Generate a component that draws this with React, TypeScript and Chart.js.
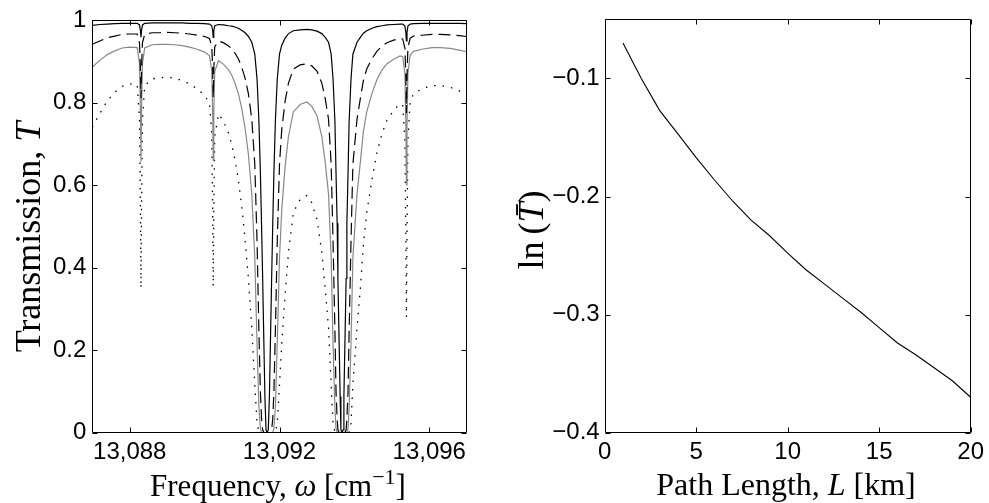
import React, { useEffect, useRef } from "react";
import { Chart, registerables } from "chart.js";

Chart.register(...registerables);

// ---------- Left panel: transmission spectra ----------
const freq = [
  13087.0, 13087.2, 13087.4, 13087.6, 13087.8, 13088.0, 13088.2, 13088.26, 13088.285, 13088.3,
  13088.315, 13088.34, 13088.4, 13088.6, 13088.8, 13089.0, 13089.2, 13089.4, 13089.6, 13089.8,
  13090.0, 13090.13, 13090.19, 13090.215, 13090.23, 13090.245, 13090.27, 13090.37, 13090.5, 13090.64,
  13090.73, 13090.81, 13090.9, 13090.99, 13091.08, 13091.17, 13091.26, 13091.34, 13091.4, 13091.45,
  13091.49, 13091.52, 13091.55, 13091.58, 13091.61, 13091.64, 13091.67, 13091.7, 13091.73, 13091.76,
  13091.79, 13091.82, 13091.85, 13091.89, 13091.94, 13092.0, 13092.06, 13092.15, 13092.24, 13092.37,
  13092.55, 13092.73, 13092.86, 13093.0, 13093.13, 13093.22, 13093.31, 13093.38, 13093.43, 13093.48,
  13093.51, 13093.54, 13093.56, 13093.59, 13093.62, 13093.64, 13093.67, 13093.7, 13093.72, 13093.75,
  13093.78, 13093.8, 13093.83, 13093.86, 13093.91, 13093.96, 13094.07, 13094.16, 13094.24, 13094.33,
  13094.47, 13094.6, 13094.74, 13094.87, 13095.05, 13095.22, 13095.29, 13095.35, 13095.375, 13095.39,
  13095.405, 13095.43, 13095.49, 13095.58, 13095.8, 13096.07, 13096.29, 13096.56, 13096.8, 13097.0,
];

const transSolid = [
  0.988, 0.99, 0.991, 0.992, 0.993, 0.993, 0.993, 0.989, 0.976, 0.959,
  0.976, 0.989, 0.993, 0.994, 0.994, 0.994, 0.994, 0.994, 0.993, 0.993,
  0.992, 0.991, 0.987, 0.975, 0.959, 0.975, 0.987, 0.99, 0.989, 0.987,
  0.986, 0.984, 0.981, 0.976, 0.97, 0.961, 0.947, 0.918, 0.858, 0.756,
  0.628, 0.508, 0.374, 0.23, 0.088, 0.007, 0.0, 0.007, 0.088, 0.23,
  0.374, 0.508, 0.628, 0.756, 0.858, 0.918, 0.94, 0.957, 0.968, 0.975,
  0.977, 0.978, 0.977, 0.974, 0.968, 0.959, 0.947, 0.918, 0.858, 0.756,
  0.628, 0.508, 0.374, 0.23, 0.088, 0.007, 0.0, 0.007, 0.088, 0.23,
  0.374, 0.508, 0.628, 0.756, 0.858, 0.918, 0.947, 0.959, 0.969, 0.975,
  0.981, 0.985, 0.987, 0.989, 0.99, 0.991, 0.991, 0.986, 0.971, 0.95,
  0.971, 0.986, 0.991, 0.992, 0.993, 0.993, 0.993, 0.993, 0.993, 0.992,
];

const transDashed = [
  0.942, 0.95, 0.958, 0.962, 0.966, 0.967, 0.967, 0.946, 0.886, 0.811,
  0.886, 0.946, 0.966, 0.97, 0.97, 0.971, 0.97, 0.969, 0.967, 0.964,
  0.961, 0.956, 0.938, 0.882, 0.813, 0.882, 0.936, 0.95, 0.946, 0.938,
  0.931, 0.921, 0.907, 0.887, 0.86, 0.822, 0.76, 0.651, 0.465, 0.247,
  0.098, 0.034, 0.007, 0.001, 0, 0, 0, 0, 0, 0.001,
  0.007, 0.034, 0.098, 0.247, 0.465, 0.651, 0.735, 0.804, 0.848, 0.882,
  0.892, 0.895, 0.89, 0.877, 0.848, 0.811, 0.76, 0.651, 0.465, 0.247,
  0.098, 0.034, 0.007, 0.001, 0, 0, 0, 0, 0, 0.001,
  0.007, 0.034, 0.098, 0.247, 0.465, 0.651, 0.76, 0.811, 0.854, 0.882,
  0.907, 0.925, 0.938, 0.946, 0.952, 0.956, 0.955, 0.933, 0.862, 0.775,
  0.862, 0.934, 0.957, 0.962, 0.964, 0.966, 0.966, 0.965, 0.963, 0.961,
];

const transGray = [
  0.887, 0.903, 0.917, 0.926, 0.933, 0.935, 0.934, 0.896, 0.784, 0.657,
  0.784, 0.896, 0.933, 0.941, 0.942, 0.942, 0.941, 0.939, 0.935, 0.93,
  0.923, 0.914, 0.879, 0.778, 0.661, 0.777, 0.876, 0.902, 0.894, 0.88,
  0.866, 0.848, 0.823, 0.787, 0.739, 0.675, 0.578, 0.424, 0.217, 0.061,
  0.01, 0.001, 0, 0, 0, 0, 0, 0, 0, 0,
  0, 0.001, 0.01, 0.061, 0.217, 0.424, 0.541, 0.646, 0.719, 0.778,
  0.796, 0.802, 0.792, 0.769, 0.719, 0.657, 0.578, 0.424, 0.217, 0.061,
  0.01, 0.001, 0, 0, 0, 0, 0, 0, 0, 0,
  0, 0.001, 0.01, 0.061, 0.217, 0.424, 0.578, 0.657, 0.73, 0.778,
  0.823, 0.856, 0.88, 0.895, 0.906, 0.914, 0.912, 0.871, 0.742, 0.601,
  0.742, 0.872, 0.916, 0.925, 0.93, 0.934, 0.934, 0.932, 0.928, 0.924,
];

const transDotted = [
  0.741, 0.774, 0.805, 0.826, 0.84, 0.846, 0.844, 0.76, 0.545, 0.35,
  0.545, 0.76, 0.842, 0.858, 0.861, 0.862, 0.86, 0.854, 0.846, 0.834,
  0.818, 0.799, 0.724, 0.534, 0.355, 0.533, 0.719, 0.773, 0.756, 0.726,
  0.698, 0.662, 0.614, 0.55, 0.47, 0.374, 0.254, 0.117, 0.022, 0.001,
  0, 0, 0, 0, 0, 0, 0, 0, 0, 0,
  0, 0, 0, 0.001, 0.022, 0.117, 0.215, 0.335, 0.438, 0.534,
  0.566, 0.575, 0.558, 0.518, 0.438, 0.35, 0.254, 0.117, 0.022, 0.001,
  0, 0, 0, 0, 0, 0, 0, 0, 0, 0,
  0, 0, 0, 0.001, 0.022, 0.117, 0.254, 0.35, 0.455, 0.534,
  0.614, 0.678, 0.726, 0.758, 0.782, 0.798, 0.795, 0.708, 0.475, 0.28,
  0.475, 0.71, 0.803, 0.822, 0.834, 0.842, 0.842, 0.838, 0.829, 0.82,
];

const freqTicks = [13088, 13092, 13096];
const freqTickLabels = ["13,088", "13,092", "13,096"];
const transTicks = [0, 0.2, 0.4, 0.6, 0.8, 1];
const transTickLabels = ["0", "0.2", "0.4", "0.6", "0.8", "1"];

// ---------- Right panel: ln(mean T) vs path length ----------
const pathLength = [1, 2, 3, 4, 5, 6, 7, 8, 9, 10, 11, 12, 13, 14, 15, 16, 17, 18, 19, 20];
const lnMeanT = [
  -0.07, -0.1, -0.127, -0.147, -0.167, -0.186, -0.204, -0.22, -0.233, -0.248,
  -0.262, -0.274, -0.286, -0.298, -0.311, -0.324, -0.334, -0.345, -0.356, -0.37,
];
const pathTicks = [0, 5, 10, 15, 20];
const pathTickLabels = ["0", "5", "10", "15", "20"];
const lnTicks = [-0.4, -0.3, -0.2, -0.1];
const lnTickLabels = ["\u22120.4", "\u22120.3", "\u22120.2", "\u22120.1"];

// ---------- helpers ----------
const SERIF = '"Liberation Serif", "Times New Roman", serif';
const SANS = '"Liberation Sans", Arial, Helvetica, sans-serif';

type Seg = { t: string; it?: boolean; sup?: boolean };
type TitleSpec = { segs: Seg[]; x: number; y: number; size: number; rot?: boolean };

function drawTitle(ctx: CanvasRenderingContext2D, spec: TitleSpec) {
  const size = spec.size;
  const fontFor = (s: Seg) =>
    `${s.it ? "italic " : ""}${s.sup ? Math.round(size * 0.7) : size}px ${SERIF}`;
  ctx.save();
  ctx.translate(spec.x, spec.y);
  if (spec.rot) ctx.rotate(-Math.PI / 2);
  let total = 0;
  for (const s of spec.segs) {
    ctx.font = fontFor(s);
    total += ctx.measureText(s.t).width;
  }
  let x = -total / 2;
  ctx.fillStyle = "#000";
  ctx.textAlign = "left";
  ctx.textBaseline = "alphabetic";
  for (const s of spec.segs) {
    ctx.font = fontFor(s);
    ctx.fillText(s.t, x, s.sup ? -size * 0.4 : 0);
    x += ctx.measureText(s.t).width;
  }
  ctx.restore();
}

function framePlugin(titles: TitleSpec[]) {
  return {
    id: "frameAndTitles",
    afterDatasetsDraw(chart: any) {
      const { ctx, chartArea: a, scales } = chart;
      const L = Math.round(a.left) + 0.5;
      const R = Math.round(a.right) - 0.5;
      const T = Math.round(a.top) + 0.5;
      const B = Math.round(a.bottom) - 0.5;
      const tl = 5;
      ctx.save();
      ctx.strokeStyle = "#000";
      ctx.lineWidth = 1;
      ctx.beginPath();
      ctx.rect(L, T, R - L, B - T);
      for (const t of scales.x.ticks) {
        const px = Math.round(scales.x.getPixelForValue(t.value)) + 0.5;
        ctx.moveTo(px, B);
        ctx.lineTo(px, B - tl);
        ctx.moveTo(px, T);
        ctx.lineTo(px, T + tl);
      }
      for (const t of scales.y.ticks) {
        const py = Math.round(scales.y.getPixelForValue(t.value)) + 0.5;
        ctx.moveTo(L, py);
        ctx.lineTo(L + tl, py);
        ctx.moveTo(R, py);
        ctx.lineTo(R - tl, py);
      }
      ctx.stroke();
      ctx.restore();
    },
    afterDraw(chart: any) {
      const ctx = chart.ctx as CanvasRenderingContext2D;
      for (const t of titles) drawTitle(ctx, t);
    },
  };
}

function axis(
  values: number[],
  labels: string[],
  min: number,
  max: number,
  fit: (s: any) => void,
  padding: number
) {
  return {
    type: "linear" as const,
    min,
    max,
    afterBuildTicks: (s: any) => {
      s.ticks = values.map((v) => ({ value: v }));
    },
    afterFit: fit,
    grid: { display: false, drawTicks: false },
    border: { display: false },
    ticks: {
      autoSkip: false,
      maxRotation: 0,
      minRotation: 0,
      padding,
      color: "#000",
      font: { family: SANS, size: 24 },
      callback: (_v: any, i: number) => labels[i],
    },
  };
}

const pts = (xs: number[], ys: number[]) => xs.map((x, i) => ({ x, y: ys[i] }));

function leftConfig(): any {
  return {
    type: "line",
    data: {
      datasets: [
        { data: pts(freq, transSolid), borderColor: "#000", borderWidth: 1.2 },
        { data: pts(freq, transDashed), borderColor: "#000", borderWidth: 1.2, borderDash: [12, 6] },
        { data: pts(freq, transGray), borderColor: "#888", borderWidth: 1.2 },
        { data: pts(freq, transDotted), borderColor: "#000", borderWidth: 1.3, borderDash: [1.5, 7] },
      ].map((d) => ({ ...d, pointRadius: 0, tension: 0, fill: false })),
    },
    options: {
      animation: false,
      responsive: false,
      devicePixelRatio: 1,
      events: [],
      layout: { padding: { left: 0, right: 23.3, top: 16, bottom: 0 } },
      plugins: { legend: { display: false }, tooltip: { enabled: false } },
      scales: {
        x: axis(freqTicks, freqTickLabels, 13087, 13097, (s) => { s.height = 70.3; }, 5),
        y: axis(transTicks, transTickLabels, 0, 1, (s) => { s.width = 92.3; }, 6),
      },
    },
    plugins: [
      framePlugin([
        {
          segs: [{ t: "Frequency, " }, { t: "\u03c9", it: true }, { t: " [cm" }, { t: "\u22121", sup: true }, { t: "]" }],
          x: 278,
          y: 496,
          size: 31,
        },
        { segs: [{ t: "Transmission, " }, { t: "T", it: true }], x: 40, y: 237, size: 36, rot: true },
      ]),
    ],
  };
}

function rightConfig(): any {
  return {
    type: "line",
    data: {
      datasets: [
        {
          data: pts(pathLength, lnMeanT),
          borderColor: "#000",
          borderWidth: 1.1,
          pointRadius: 0,
          tension: 0,
          fill: false,
        },
      ],
    },
    options: {
      animation: false,
      responsive: false,
      devicePixelRatio: 1,
      events: [],
      layout: { padding: { left: 0, right: 16, top: 16, bottom: 0 } },
      plugins: { legend: { display: false }, tooltip: { enabled: false } },
      scales: {
        x: axis(pathTicks, pathTickLabels, 0, 20, (s) => { s.height = 70.3; }, 5),
        y: axis(lnTicks, lnTickLabels, -0.4, -0.05, (s) => { s.width = 114.7; }, 5),
      },
    },
    plugins: [
      framePlugin([
        { segs: [{ t: "Path Length, " }, { t: "L", it: true }, { t: " [km]" }], x: 296, y: 495, size: 32 },
        { segs: [{ t: "ln\u2009(" }, { t: "T\u0304", it: true }, { t: ")" }], x: 53, y: 230, size: 36, rot: true },
      ]),
    ],
  };
}

function ChartCanvas(props: { left: number; width: number; height: number; make: () => any }) {
  const ref = useRef<HTMLCanvasElement>(null);
  useEffect(() => {
    const chart = new Chart(ref.current as HTMLCanvasElement, props.make());
    return () => chart.destroy();
  }, []);
  return (
    <canvas
      ref={ref}
      width={props.width}
      height={props.height}
      style={{ position: "absolute", left: props.left, top: 0, width: props.width, height: props.height }}
    />
  );
}

export default function App() {
  return (
    <div style={{ position: "absolute", left: 0, top: 0, width: 989, height: 503, background: "#fff" }}>
      <ChartCanvas left={0} width={490} height={503} make={leftConfig} />
      <ChartCanvas left={490} width={499} height={503} make={rightConfig} />
    </div>
  );
}
